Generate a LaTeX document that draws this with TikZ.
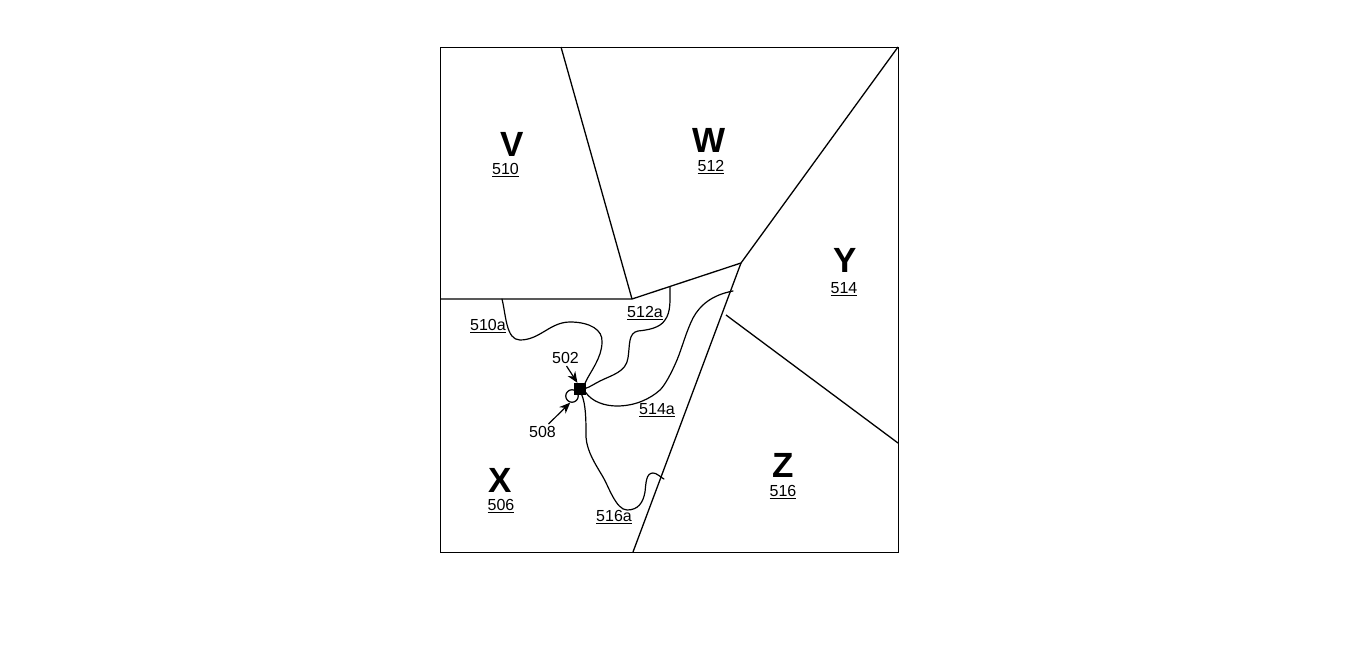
\documentclass[tikz,border=0pt]{standalone}
\usepackage{fontspec}
\setmainfont{Liberation Sans}
\usetikzlibrary{arrows.meta}
\tikzset{
  frameline/.style={draw=black,line width=0.9pt,line join=miter},
  border/.style={draw=black,line width=1.3pt,line join=miter},
  route/.style={draw=black,line width=1.2pt,line cap=round},
  big/.style={font=\fontsize{35}{35}\selectfont\bfseries,inner sep=0pt},
  num/.style={font=\fontsize{16}{16}\selectfont,inner sep=0pt},
  pointer/.style={draw=black,line width=1.2pt,-{Stealth[length=11pt,width=9pt]}}
}
\newcommand{\ul}[1]{\underline{#1}}
\begin{document}
\begin{tikzpicture}[x=1pt,y=-1pt]
\useasboundingbox (0,0) rectangle (1369,667);
\fill[white] (0,0) rectangle (1369,667);
% junction points
\coordinate (tl) at (440,47);
\coordinate (tr) at (898,47);
\coordinate (br) at (898,552);
\coordinate (bl) at (440,552);
\coordinate (vwtop) at (561,47);
\coordinate (vx) at (440,299);
\coordinate (center) at (632,299);
\coordinate (hub) at (741,263);
\coordinate (bot) at (633,552);
\coordinate (yz) at (726,315);
\coordinate (zr) at (898,443);
% borders
\draw[frameline] (tl) -- (tr) -- (br) -- (bl) -- cycle;
\draw[border] (vwtop) -- (center);
\draw[border] (vx) -- (center) -- (hub) -- (tr);
\draw[border] (hub) -- (bot);
\draw[border] (yz) -- (zr);
% site markers
\node[draw=black,fill=white,circle,line width=1.2pt,minimum size=12.5pt,inner sep=0pt] (s508) at (572,396) {};
\node[draw=black,fill=black,minimum size=11pt,inner sep=0pt] (s502) at (579.5,388.5) {};
% routes
\coordinate (a0) at (502,299);
\coordinate (b0) at (670,287);
\coordinate (c0) at (733,291);
\coordinate (d0) at (664,479);
\draw[route] (a0) .. controls (506,315) and (506,340) .. (520,340)
  .. controls (540,340) and (550,322) .. (570,322)
  .. controls (590,322) and (603,330) .. (602,342)
  .. controls (602,358) and (590,372) .. (s502.north east);
\draw[route] (b0) .. controls (670,300) and (671,312) .. (665,320)
  .. controls (660,328) and (648,330) .. (638,331)
  .. controls (628,333) and (630,345) .. (628,358)
  .. controls (626,372) and (612,375) .. (600,381)
  .. controls (594,384) and (590,387) .. (s502.east);
\draw[route] (c0) .. controls (712,295) and (700,305) .. (693,318)
  .. controls (686,332) and (682,348) .. (677,360)
  .. controls (671,374) and (665,385) .. (660,390)
  .. controls (650,399) and (635,406) .. (617,406)
  .. controls (605,406) and (592,402) .. (s502.-30);
\draw[route] (s502.-70) .. controls (586,405) and (586,420) .. (586,437)
  .. controls (587,452) and (596,465) .. (603,477)
  .. controls (608,485) and (616,510) .. (627,510)
  .. controls (638,510) and (643,503) .. (645,492)
  .. controls (646,483) and (646,473) .. (653,473)
  .. controls (657,473) and (660,477) .. (d0);
% labels
\node[big] (lv) at (512,144) {V};
\node[num] (n510) at (505.5,170) {\ul{510}};
\node[big] (lw) at (709,140) {W};
\node[num] (n512) at (711,167) {\ul{512}};
\node[big] (ly) at (845,260) {Y};
\node[num] (n514) at (844,289) {\ul{514}};
\node[big] (lx) at (500,480) {X};
\node[num] (n506) at (501,506) {\ul{506}};
\node[big] (lz) at (783,465) {Z};
\node[num] (n516) at (783,492) {\ul{516}};
\node[num] (n510a) at (488,326) {\ul{510a}};
\node[num] (n512a) at (645,313) {\ul{512a}};
\node[num] (n514a) at (657,410) {\ul{514a}};
\node[num] (n516a) at (614,517) {\ul{516a}};
\node[num] (n502) at (565.5,358) {502};
\node[num] (n508) at (542.5,432) {508};
% pointers
\draw[pointer] (n502) ++(1,8) -- (s502.110);
\draw[pointer] (n508) ++(6,-8) -- (s508.-105);
\end{tikzpicture}
\end{document}
